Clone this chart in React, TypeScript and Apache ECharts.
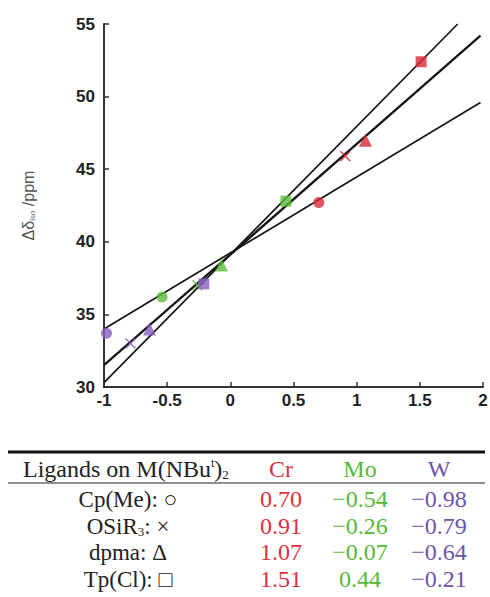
import React, { useEffect, useRef } from "react";
import * as echarts from "echarts";

// Ligand rows of the table
const ligands = ["Cp(Me): ○", "OSiR{sub|3}: ×", "dpma: Δ", "Tp(Cl): □"];
const metals = ["Cr", "Mo", "W"];

// x values (table entries) and Δδ_iso values per metal, one per ligand row
const crX = [0.7, 0.91, 1.07, 1.51];
const crY = [42.7, 45.9, 47.0, 52.4];
const moX = [-0.54, -0.26, -0.07, 0.44];
const moY = [36.2, 37.0, 38.4, 42.8];
const wX = [-0.98, -0.79, -0.64, -0.21];
const wY = [33.7, 33.0, 34.0, 37.1];

// Correlation lines (endpoints)
const lineTpCl = [[-1, 30.3], [1.8, 55]];
const lineDpma = [[-1, 31.5], [1.98, 54.2]];
const lineCpMe = [[-1, 34.0], [1.98, 49.6]];

const xTicks = [-1, -0.5, 0, 0.5, 1, 1.5, 2];
const yTicks = [30, 35, 40, 45, 50, 55];

const RED = "#d8283a";
const GREEN = "#5cbd3c";
const PURPLE = "#8a5cc2";
const TXT_RED = "#e0303a";
const TXT_GREEN = "#55b83a";
const TXT_PURPLE = "#6e54a8";

const CROSS = "path://M1,0L5,4L9,0L10,1L6,5L10,9L9,10L5,6L1,10L0,9L4,5L0,1Z";
const symbols = ["circle", CROSS, "triangle", "rect"];
const sizes = [11, 11, 13, 11];

function fmt(v: number) {
  return v < 0 ? "\u2212" + Math.abs(v).toFixed(2) : v.toFixed(2);
}

export default function App() {
  const ref = useRef<HTMLDivElement>(null);
  useEffect(() => {
    if (!ref.current) return;
    const chart = echarts.init(ref.current, null, { renderer: "svg" });

    const mkScatter = (name: string, xs: number[], ys: number[], color: string) => ({
      name,
      type: "scatter",
      z: 5,
      itemStyle: { color },
      data: xs.map((x, i) => ({
        value: [x, ys[i]],
        symbol: symbols[i],
        symbolSize: sizes[i],
      })),
    });
    const mkLine = (pts: number[][], w: number) => ({
      type: "line",
      data: pts,
      symbol: "none",
      z: 3,
      lineStyle: { color: "#151515", width: w },
    });

    const serif = "Liberation Serif";
    const colCenters = [281, 360, 439];
    const rowY = [499, 526, 552, 579];
    const metalColors = [TXT_RED, TXT_GREEN, TXT_PURPLE];
    const values = [crX, moX, wX];
    const base = { fontFamily: serif, fontSize: 23 };
    const num = { fontFamily: serif, fontSize: 24 };

    const graphics: any[] = [
      { type: "line", shape: { x1: 8, y1: 452, x2: 485, y2: 452 }, style: { stroke: "#111", lineWidth: 3 } },
      { type: "line", shape: { x1: 8, y1: 483, x2: 485, y2: 483 }, style: { stroke: "#222", lineWidth: 1.2 } },
      {
        type: "text",
        x: 23,
        y: 469,
        style: {
          text: "Ligands on M(NBu{sup|t}){sub|2}",
          fontFamily: serif,
          fontSize: 24,
          fill: "#222",
          verticalAlign: "middle",
          rich: {
            sup: { fontSize: 12, fontFamily: serif, fill: "#222", verticalAlign: "top", padding: [0, 0, 10, 0] },
            sub: { fontSize: 13, fontFamily: serif, fill: "#222", verticalAlign: "bottom", padding: [10, 0, 0, 0] },
          },
        },
      },
    ];
    metals.forEach((m, j) => {
      graphics.push({
        type: "text",
        x: colCenters[j],
        y: 469,
        style: { text: m, ...num, fill: metalColors[j], align: "center", verticalAlign: "middle" },
      });
    });
    ligands.forEach((l, i) => {
      graphics.push({
        type: "text",
        x: 128,
        y: rowY[i],
        style: {
          text: l,
          ...base,
          fill: "#222",
          align: "center",
          verticalAlign: "middle",
          rich: {
            sub: { fontSize: 13, fontFamily: serif, fill: "#222", verticalAlign: "bottom", padding: [10, 0, 0, 0] },
          },
        },
      });
      values.forEach((arr, j) => {
        graphics.push({
          type: "text",
          x: colCenters[j],
          y: rowY[i],
          style: { text: fmt(arr[i]), ...num, fill: metalColors[j], align: "center", verticalAlign: "middle" },
        });
      });
    });

    chart.setOption({
      animation: false,
      backgroundColor: "#ffffff",
      grid: { left: 104, right: 7, top: 24, bottom: 210, containLabel: false, outerBoundsMode: "none" },
      xAxis: {
        type: "value",
        min: xTicks[0],
        max: xTicks[xTicks.length - 1],
        interval: 0.5,
        splitLine: { show: false },
        axisLine: { onZero: false, lineStyle: { color: "#333", width: 2 } },
        axisTick: { inside: true, length: 5, lineStyle: { color: "#333", width: 1.5 } },
        axisLabel: {
          margin: 5,
          color: "#222",
          fontFamily: "Liberation Sans",
          fontWeight: "bold",
          fontSize: 17,
          formatter: (v: number) => String(v),
        },
      },
      yAxis: {
        type: "value",
        min: yTicks[0],
        max: yTicks[yTicks.length - 1],
        interval: 5,
        splitLine: { show: false },
        axisLine: { onZero: false, lineStyle: { color: "#333", width: 2 } },
        axisTick: { inside: true, length: 5, lineStyle: { color: "#333", width: 1.5 } },
        axisLabel: {
          margin: 9,
          color: "#222",
          fontFamily: "Liberation Sans",
          fontWeight: "bold",
          fontSize: 17,
        },
        name: "Δδ{s|iso} /ppm",
        nameLocation: "middle",
        nameRotate: 90,
        nameGap: 68,
        nameTextStyle: {
          color: "#555",
          fontFamily: "Liberation Sans",
          fontSize: 16,
          rich: {
            s: { fontSize: 8, color: "#666", fontFamily: "Liberation Sans", verticalAlign: "bottom", padding: [8, 0, 0, 0] },
          },
        },
      },
      series: [
        mkLine(lineTpCl, 1.7),
        mkLine(lineDpma, 2.3),
        mkLine(lineCpMe, 1.7),
        mkScatter("Cr", crX, crY, RED),
        mkScatter("Mo", moX, moY, GREEN),
        mkScatter("W", wX, wY, PURPLE),
      ],
      graphic: graphics,
    });
    return () => chart.dispose();
  }, []);
  return (
    <div
      ref={ref}
      style={{ position: "fixed", left: 0, top: 0, width: 490, height: 597, background: "#fff" }}
    />
  );
}
